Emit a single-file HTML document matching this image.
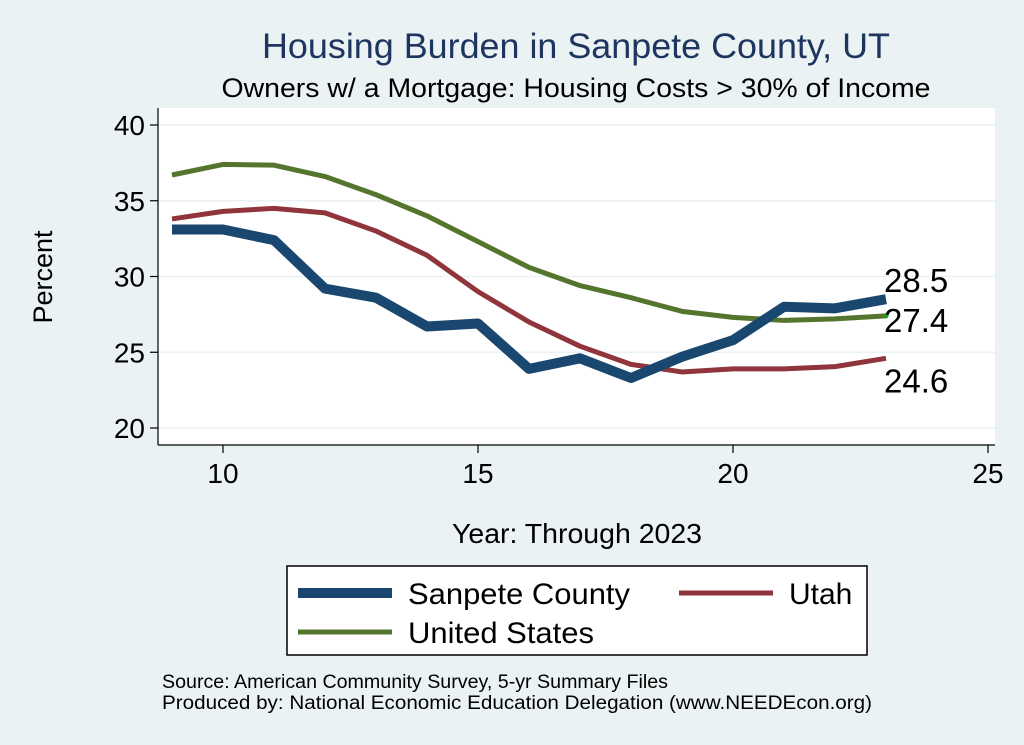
<!DOCTYPE html>
<html><head><meta charset="utf-8">
<style>
body{margin:0;background:#eaf2f3;}
svg{display:block;font-family:"Liberation Sans",Arial,sans-serif;}
</style></head>
<body>
<svg id="chart" width="1024" height="745" viewBox="0 0 1024 745">
<rect x="0" y="0" width="1024" height="745" fill="#eaf2f3"/>
<text x="576" y="58" text-anchor="middle" font-size="35" textLength="628" lengthAdjust="spacingAndGlyphs" fill="#1e3560">Housing Burden in Sanpete County, UT</text>
<text x="576" y="97" text-anchor="middle" font-size="27" textLength="709" lengthAdjust="spacingAndGlyphs" fill="#000">Owners w/ a Mortgage: Housing Costs &gt; 30% of Income</text>
<rect x="158" y="108" width="837" height="337" fill="#fff"/>
<g id="grid"></g>
<g id="axes"></g>
<g id="series"></g>
<text x="52" y="277" text-anchor="middle" font-size="27" transform="rotate(-90 52 277)">Percent</text>
<text x="577" y="543" text-anchor="middle" font-size="28" textLength="250" lengthAdjust="spacingAndGlyphs">Year: Through 2023</text>
<g>
<rect x="287" y="566" width="580" height="89" fill="#fff" stroke="#000" stroke-width="1.5"/>
<line x1="298" y1="593" x2="392" y2="593" stroke="#1a476f" stroke-width="10"/>
<text x="408" y="604" font-size="30" textLength="222" lengthAdjust="spacingAndGlyphs">Sanpete County</text>
<line x1="679" y1="593" x2="773" y2="593" stroke="#90353b" stroke-width="5"/>
<text x="789" y="604" font-size="30">Utah</text>
<line x1="298" y1="632" x2="392" y2="632" stroke="#55752f" stroke-width="5"/>
<text x="408" y="643" font-size="30" textLength="186" lengthAdjust="spacingAndGlyphs">United States</text>
</g>
<text x="162" y="688" font-size="19" textLength="506" lengthAdjust="spacingAndGlyphs">Source: American Community Survey, 5-yr Summary Files</text>
<text x="162" y="709" font-size="19" textLength="710" lengthAdjust="spacingAndGlyphs">Produced by: National Economic Education Delegation (www.NEEDEcon.org)</text>
</svg>
<script>
const years=[9,10,11,12,13,14,15,16,17,18,19,20,21,22,23];
const sanpete=[33.1,33.1,32.4,29.2,28.6,26.7,26.9,23.9,24.6,23.3,24.7,25.8,28.0,27.9,28.5];
const utah=[33.8,34.3,34.5,34.2,33.0,31.4,29.0,27.0,25.4,24.2,23.7,23.9,23.9,24.05,24.6];
const us=[36.7,37.4,37.35,36.6,35.4,34.0,32.3,30.6,29.4,28.6,27.7,27.3,27.1,27.2,27.4];
const xTicks=[10,15,20,25];
const yTicks=[20,25,30,35,40];
const NS="http://www.w3.org/2000/svg";
function X(v){return 223+(v-10)*51;}
function Y(v){return 428-(v-20)*15.15;}
function mk(t,a,p){const e=document.createElementNS(NS,t);for(const k in a)e.setAttribute(k,a[k]);p.appendChild(e);return e;}
const grid=document.getElementById('grid'),axes=document.getElementById('axes'),ser=document.getElementById('series');
mk('line',{x1:158,y1:108,x2:158,y2:445,stroke:'#000','stroke-width':1.2},axes);
mk('line',{x1:158,y1:445,x2:995,y2:445,stroke:'#000','stroke-width':1.2},axes);
yTicks.forEach(v=>{
 const g=mk('line',{x1:158,y1:Y(v),x2:995,y2:Y(v),stroke:'#eaf2f3','stroke-width':1.5},grid);
 
 
 mk('line',{x1:150,y1:Y(v),x2:158,y2:Y(v),stroke:'#000','stroke-width':1.2},axes);
 const t=mk('text',{x:145,y:Y(v)+10,'text-anchor':'end','font-size':28},axes);t.textContent=v;
 
 
});
xTicks.forEach(v=>{
 mk('line',{x1:X(v),y1:445,x2:X(v),y2:453,stroke:'#000','stroke-width':1.2},axes);
 const t=mk('text',{x:X(v),y:483,'text-anchor':'middle','font-size':28},axes);t.textContent=v;
 
 
});
function line(data,color,w,name){
 const p=mk('polyline',{points:data.map((v,i)=>X(years[i])+','+Y(v)).join(' '),fill:'none',stroke:color,'stroke-width':w,'stroke-linejoin':'round'},ser);
 
 
}
line(us,'#55752f',5,'line-united-states');
line(utah,'#90353b',5,'line-utah');
line(sanpete,'#1a476f',10,'line-sanpete');
mk('circle',{cx:X(23),cy:Y(us[us.length-1]),r:2.5,fill:'#1c9c1c'},ser);
function lab(v,dy,name){const t=mk('text',{x:X(23)-2,y:Y(v)+dy,'font-size':33},ser);t.textContent=v.toFixed(1);
 
 }
lab(sanpete[sanpete.length-1],-7,'label-sanpete-last');
lab(us[us.length-1],16,'label-us-last');
lab(utah[utah.length-1],34,'label-utah-last');
</script>
</body></html>
